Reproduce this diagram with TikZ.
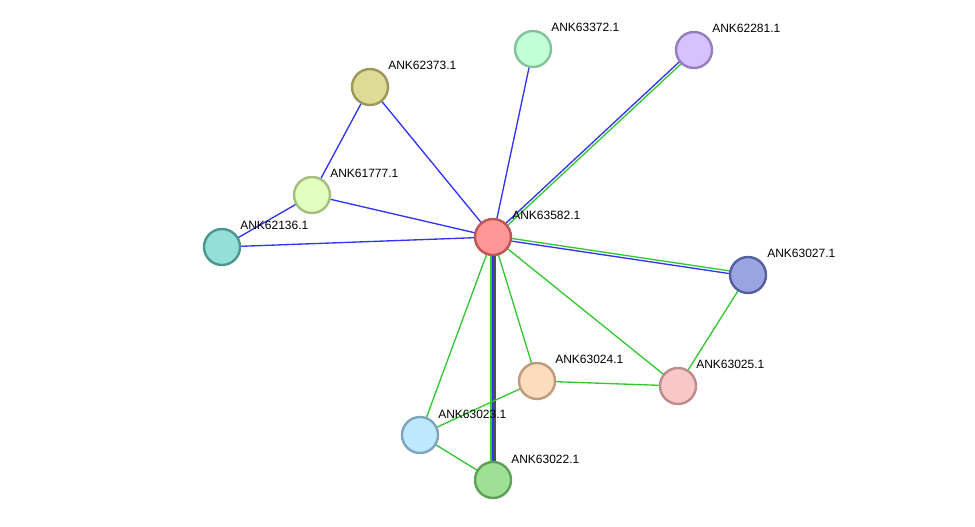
\documentclass[tikz,border=0pt]{standalone}
\usepackage{fontspec}
\setmainfont{Liberation Sans}
\usetikzlibrary{calc,backgrounds,positioning}

\definecolor{lnblue}{RGB}{51,51,245}
\definecolor{lngreen}{RGB}{51,200,51}
\definecolor{lngray}{RGB}{80,80,80}

% parallel edge: style, from, to, offset
\newcommand\pedge[4]{\draw[#1] ($(#2)!#4!90:(#3)$) -- ($(#3)!#4!-90:(#2)$);}

\begin{document}
\begin{tikzpicture}[
  x=0.75pt, y=-0.75pt,
% 1. protein nodes
  prot/.style={
    draw,
    circle,
    minimum size=27pt,
    inner sep=0pt,
    line width=1.8pt
  },
% 2. gene labels
  lbl/.style={
    font=\fontsize{9}{10}\selectfont,
    anchor=west,
    inner sep=0pt
  },
% 3. edge kinds
  eblue/.style={draw=lnblue, line width=1pt},
  egreen/.style={draw=lngreen, line width=1pt},
  egray/.style={draw=lngray, line width=1pt}
]

  \useasboundingbox (0,0) rectangle (975,526);

  % Nodes
  \node[prot, fill={rgb,255:red,255;green,150;blue,150}, draw={rgb,255:red,190;green,85;blue,85}] (n63582) at (493,237) {};
  \node[prot, fill={rgb,255:red,193;green,255;blue,215}, draw={rgb,255:red,130;green,195;blue,155}] (n63372) at (533,49) {};
  \node[prot, fill={rgb,255:red,213;green,194;blue,255}, draw={rgb,255:red,150;green,125;blue,190}] (n62281) at (694,50) {};
  \node[prot, fill={rgb,255:red,222;green,219;blue,150}, draw={rgb,255:red,155;green,152;blue,90}] (n62373) at (370,87) {};
  \node[prot, fill={rgb,255:red,226;green,255;blue,192}, draw={rgb,255:red,165;green,190;blue,125}] (n61777) at (312,195) {};
  \node[prot, fill={rgb,255:red,148;green,224;blue,216}, draw={rgb,255:red,75;green,150;blue,142}] (n62136) at (222,247) {};
  \node[prot, fill={rgb,255:red,153;green,164;blue,224}, draw={rgb,255:red,85;green,95;blue,160}] (n63027) at (748,275) {};
  \node[prot, fill={rgb,255:red,248;green,200;blue,200}, draw={rgb,255:red,190;green,140;blue,140}] (n63025) at (678,386) {};
  \node[prot, fill={rgb,255:red,253;green,219;blue,189}, draw={rgb,255:red,190;green,155;blue,125}] (n63024) at (537,381) {};
  \node[prot, fill={rgb,255:red,192;green,232;blue,255}, draw={rgb,255:red,125;green,165;blue,190}] (n63023) at (420,435) {};
  \node[prot, fill={rgb,255:red,158;green,224;blue,148}, draw={rgb,255:red,95;green,160;blue,88}] (n63022) at (493,480) {};

  % Labels
  \node[lbl] (t63582) at ($(n63582)+(19,-22)$) {ANK63582.1};
  \node[lbl] (t63372) at ($(n63372)+(18,-22)$) {ANK63372.1};
  \node[lbl] (t62281) at ($(n62281)+(18,-22)$) {ANK62281.1};
  \node[lbl] (t62373) at ($(n62373)+(18,-22)$) {ANK62373.1};
  \node[lbl] (t61777) at ($(n61777)+(18,-22)$) {ANK61777.1};
  \node[lbl] (t62136) at ($(n62136)+(18,-22)$) {ANK62136.1};
  \node[lbl] (t63027) at ($(n63027)+(19,-22)$) {ANK63027.1};
  \node[lbl] (t63025) at ($(n63025)+(18,-22)$) {ANK63025.1};
  \node[lbl] (t63024) at ($(n63024)+(18,-22)$) {ANK63024.1};
  \node[lbl] (t63023) at ($(n63023)+(18,-21)$) {ANK63023.1};
  \node[lbl] (t63022) at ($(n63022)+(18,-21)$) {ANK63022.1};

  % Edges (behind the nodes)
  \begin{scope}[on background layer]
    \path[eblue] (n63582.center) -- (n63372.center);
    \pedge{eblue}{n63582.center}{n62281.center}{1pt}
    \pedge{egreen}{n63582.center}{n62281.center}{-1pt}
    \path[eblue] (n63582.center) -- (n62373.center);
    \path[eblue] (n63582.center) -- (n61777.center);
    \path[eblue] (n63582.center) -- (n62136.center);
    \pedge{egreen}{n63582.center}{n63027.center}{1pt}
    \pedge{eblue}{n63582.center}{n63027.center}{-1pt}
    \path[egreen] (n63582.center) -- (n63025.center);
    \path[egreen] (n63582.center) -- (n63024.center);
    \path[egreen] (n63582.center) -- (n63023.center);
    \pedge{egreen}{n63582.center}{n63022.center}{-1.6pt}
    \path[eblue] (n63582.center) -- (n63022.center);
    \pedge{egray}{n63582.center}{n63022.center}{1.6pt}
    \path[eblue] (n62373.center) -- (n61777.center);
    \path[eblue] (n61777.center) -- (n62136.center);
    \path[egreen] (n63027.center) -- (n63025.center);
    \path[egreen] (n63024.center) -- (n63025.center);
    \path[egreen] (n63024.center) -- (n63023.center);
    \path[egreen] (n63023.center) -- (n63022.center);
  \end{scope}

\end{tikzpicture}
\end{document}
